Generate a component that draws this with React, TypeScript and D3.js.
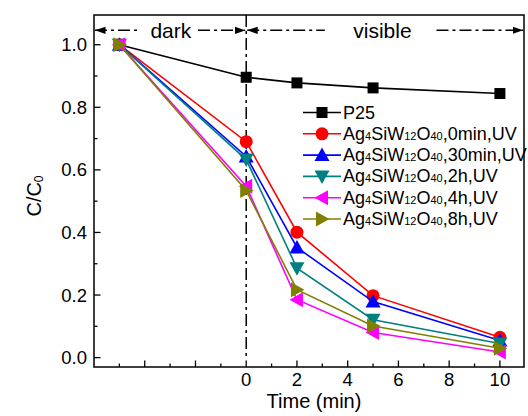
import React from "react";
import * as d3 from "d3";

const times = [-5, 0, 2, 5, 10];
const p25 = [1.0, 0.896, 0.878, 0.862, 0.844];
const uv0min = [1.0, 0.69, 0.401, 0.198, 0.065];
const uv30min = [1.0, 0.643, 0.352, 0.179, 0.055];
const uv2h = [1.0, 0.633, 0.286, 0.121, 0.045];
const uv4h = [1.0, 0.548, 0.185, 0.08, 0.018];
const uv8h = [1.0, 0.534, 0.217, 0.101, 0.03];
const seriesLabels = ["P25", "0min,UV", "30min,UV", "2h,UV", "4h,UV", "8h,UV"];
const xMajorTicks = [-4, -2, 0, 2, 4, 6, 8, 10];
const xMinorTicks = [-5, -3, -1, 1, 3, 5, 7, 9];
const yMajorTicks = [0, 0.2, 0.4, 0.6, 0.8, 1.0];
const yMinorTicks = [0.1, 0.3, 0.5, 0.7, 0.9];

const seriesValues = [p25, uv0min, uv30min, uv2h, uv4h, uv8h];
const colors = ["#000000", "#ff0000", "#0000ff", "#008080", "#ff00ff", "#808000"];
const shapes = ["square", "circle", "up", "down", "left", "right"];

const W = 528, H = 416;
const L = 94, R = 524, T = 15, B = 367;
const FONT = "Arial, 'Liberation Sans', sans-serif";

function Marker({ shape, x, y, color }: { shape: string; x: number; y: number; color: string }) {
  if (shape === "square") return <rect x={x - 5.5} y={y - 5.5} width={11} height={11} fill={color} />;
  if (shape === "circle") return <circle cx={x} cy={y} r={6.5} fill={color} />;
  const s = 7.5;
  let pts: [number, number][] = [];
  if (shape === "up") pts = [[0, -s], [s, s * 0.8], [-s, s * 0.8]];
  if (shape === "down") pts = [[0, s], [s, -s * 0.8], [-s, -s * 0.8]];
  if (shape === "left") pts = [[-s, 0], [s * 0.8, -s], [s * 0.8, s]];
  if (shape === "right") pts = [[s, 0], [-s * 0.8, -s], [-s * 0.8, s]];
  return <polygon points={pts.map(p => `${x + p[0]},${y + p[1]}`).join(" ")} fill={color} />;
}

function LegendLabel({ label, x, y }: { label: string; x: number; y: number }) {
  if (label === "P25") {
    return <text x={x} y={y} fontSize={18} fontFamily={FONT} dominantBaseline="central">P25</text>;
  }
  return (
    <text x={x} y={y} fontSize={18} fontFamily={FONT} dominantBaseline="central">
      Ag<tspan fontSize={11} dy={2}>4</tspan>
      <tspan dy={-2}>SiW</tspan>
      <tspan fontSize={11} dy={2}>12</tspan>
      <tspan dy={-2}>O</tspan>
      <tspan fontSize={11} dy={2}>40</tspan>
      <tspan dy={-2}>{"," + label}</tspan>
    </text>
  );
}

export default function App() {
  const x = d3.scaleLinear().domain([-6, 10.95]).range([L, R]);
  const y = d3.scaleLinear().domain([-0.03, 1.095]).range([B, T]);
  const line = d3.line<number>().x((_, i) => x(times[i])).y(d => y(d));

  const arrowY = y(1.046);
  const x0 = x(0);
  const dash = "12,4,3,4";

  const legX1 = 303, legX2 = 341, legY0 = 112.5, legDy = 21.3;

  return (
    <svg width={W} height={H} style={{ position: "absolute", left: 0, top: 0, background: "#fff" }}>
      <defs>
        <marker id="ah" viewBox="0 0 10 10" refX={10} refY={5} markerWidth={7} markerHeight={7} orient="auto-start-reverse">
          <path d="M0,1.5 L10,5 L0,8.5 Z" fill="#000" />
        </marker>
      </defs>
      {/* vertical dash-dot line at t=0 */}
      <line x1={x0} x2={x0} y1={T} y2={y(0)} stroke="#000" strokeWidth={1.5} strokeDasharray={dash} />
      {/* arrows */}
      <line x1={L + 1} x2={x(-4.3)} y1={arrowY} y2={arrowY} stroke="#000" strokeWidth={1.5} strokeDasharray={dash} markerStart="url(#ah)" />
      <line x1={x(-1.9)} x2={x0 - 1} y1={arrowY} y2={arrowY} stroke="#000" strokeWidth={1.5} strokeDasharray={dash} markerEnd="url(#ah)" />
      <line x1={x0 + 1} x2={x(3.1)} y1={arrowY} y2={arrowY} stroke="#000" strokeWidth={1.5} strokeDasharray={dash} markerStart="url(#ah)" />
      <line x1={x(7.5)} x2={R - 1} y1={arrowY} y2={arrowY} stroke="#000" strokeWidth={1.5} strokeDasharray={dash} markerEnd="url(#ah)" />
      <text x={x(-2.97)} y={arrowY} fontSize={21} fontFamily={FONT} textAnchor="middle" dominantBaseline="central">dark</text>
      <text x={x(5.37)} y={arrowY} fontSize={21} fontFamily={FONT} textAnchor="middle" dominantBaseline="central">visible</text>

      {/* series */}
      {seriesValues.map((vals, si) => (
        <g key={si}>
          <path d={line(vals) || ""} fill="none" stroke={colors[si]} strokeWidth={1.6} />
          {vals.map((v, i) => (
            <Marker key={i} shape={shapes[si]} x={x(times[i])} y={y(v)} color={colors[si]} />
          ))}
        </g>
      ))}

      {/* legend */}
      {seriesLabels.map((lab, i) => {
        const ly = legY0 + i * legDy;
        return (
          <g key={i}>
            <line x1={legX1} x2={legX2} y1={ly} y2={ly} stroke={colors[i]} strokeWidth={1.6} />
            <Marker shape={shapes[i]} x={(legX1 + legX2) / 2} y={ly} color={colors[i]} />
            <LegendLabel label={lab} x={legX2 + 2} y={ly} />
          </g>
        );
      })}

      {/* frame */}
      <rect x={L} y={T} width={R - L} height={B - T} fill="none" stroke="#000" strokeWidth={1.5} />

      {/* x ticks */}
      {xMajorTicks.map(t => (
        <g key={"xm" + t}>
          <line x1={x(t)} x2={x(t)} y1={B} y2={B - 6.5} stroke="#000" strokeWidth={1.3} />
          {t >= 0 && (
            <text x={x(t)} y={B + 12.5} fontSize={18.5} fontFamily={FONT} textAnchor="middle" dominantBaseline="central">{t}</text>
          )}
        </g>
      ))}
      {xMinorTicks.map(t => (
        <line key={"xn" + t} x1={x(t)} x2={x(t)} y1={B} y2={B - 3.5} stroke="#000" strokeWidth={1.3} />
      ))}
      {/* y ticks */}
      {yMajorTicks.map(t => (
        <g key={"ym" + t}>
          <line x1={L} x2={L + 6.5} y1={y(t)} y2={y(t)} stroke="#000" strokeWidth={1.3} />
          <text x={L - 7} y={y(t)} fontSize={18.5} fontFamily={FONT} textAnchor="end" dominantBaseline="central">{t.toFixed(1)}</text>
        </g>
      ))}
      {yMinorTicks.map(t => (
        <line key={"yn" + t} x1={L} x2={L + 3.5} y1={y(t)} y2={y(t)} stroke="#000" strokeWidth={1.3} />
      ))}

      {/* axis titles */}
      <text x={(L + R) / 2 + 5} y={401} fontSize={20} fontFamily={FONT} textAnchor="middle" dominantBaseline="central">Time (min)</text>
      <text transform={`translate(34, ${(T + B) / 2 + 5}) rotate(-90)`} fontSize={20} fontFamily={FONT} textAnchor="middle" dominantBaseline="central">
        C/C<tspan fontSize={12} dy={5}>0</tspan>
      </text>
    </svg>
  );
}
